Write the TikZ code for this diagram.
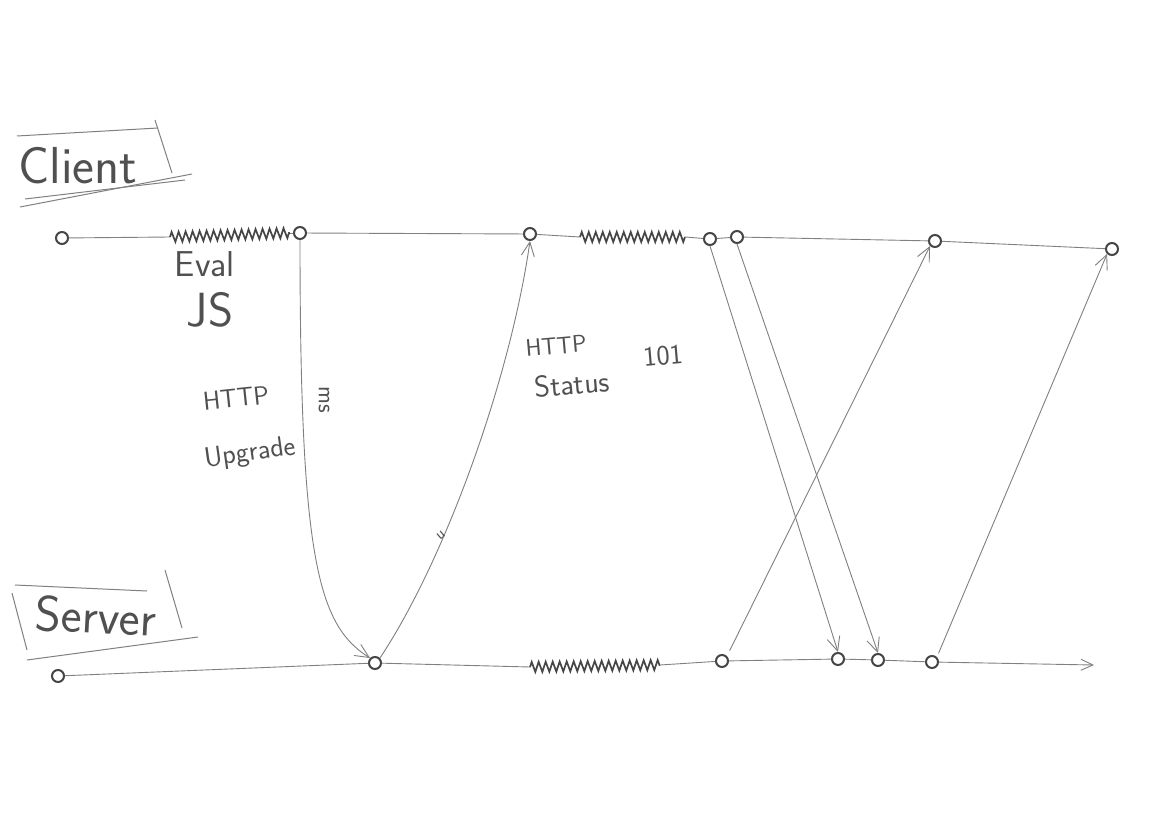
\documentclass[tikz,border=0pt]{standalone}
\usetikzlibrary{arrows.meta,decorations.pathmorphing}
\definecolor{pencil}{RGB}{128,128,128}
\definecolor{lead}{RGB}{80,80,80}
\definecolor{graphite}{RGB}{70,70,70}
\tikzset{
  wire/.style={draw=pencil, line width=0.9pt},
  dot/.style={circle, draw=graphite, line width=2pt, minimum size=12pt, inner sep=0pt},
  msg/.style={wire, -{Straight Barb[length=14pt,width=13pt,line width=0.9pt]}},
  hatch/.style={draw=graphite, line width=1.7pt, decorate,
    decoration={zigzag, segment length=7pt, amplitude=5pt}},
  hand/.style={text=lead, font=\sffamily, inner sep=0pt},
  frame/.style={draw=pencil, line width=1pt},
}
\begin{document}
\begin{tikzpicture}[x=1pt,y=-1pt]
\useasboundingbox[fill=white] (0,0) rectangle (1169,826);

% ---------- labels with frames ----------
\node[hand, font=\sffamily\fontsize{52}{52}\selectfont] (client) at (78,166) {Client};
\draw[frame] (17,136) -- (158,128);
\draw[frame] (155,120) -- (172,173);
\draw[frame] (20,207) -- (192,174);
\draw[frame] (25,199) -- (185,180);

\node[hand, font=\sffamily\fontsize{50}{50}\selectfont, rotate=-3] (server) at (96,616) {Server};
\draw[frame] (15,585) -- (147,591);
\draw[frame] (165,570) -- (182,628);
\draw[frame] (12,593) -- (27,650);
\draw[frame] (27,660) -- (198,637);

% ---------- client timeline ----------
\node[dot] (c0) at (62,238) {};
\node[dot] (c1) at (300,233) {};
\node[dot] (c2) at (530,234) {};
\node[dot] (c3) at (710,239) {};
\node[dot] (c4) at (737,237) {};
\node[dot] (c5) at (935,241) {};
\node[dot] (c6) at (1112,249) {};
\coordinate (ch1a) at (170,237);
\coordinate (ch1b) at (290,233);
\coordinate (ch2a) at (580,237);
\coordinate (ch2b) at (685,237);

\draw[wire] (c0) -- (ch1a);
\draw[hatch] (ch1a) -- (ch1b);
\draw[wire] (ch1b) -- (c1);
\draw[wire] (c1) -- (c2);
\draw[wire] (c2) -- (ch2a);
\draw[hatch] (ch2a) -- (ch2b);
\draw[wire] (ch2b) -- (c3);
\draw[wire] (c3) -- (c4);
\draw[wire] (c4) -- (c5);
\draw[wire] (c5) -- (c6);

% ---------- server timeline ----------
\node[dot] (s0) at (58,676) {};
\node[dot] (s1) at (375,663) {};
\node[dot] (s2) at (722,661) {};
\node[dot] (s3) at (838,659) {};
\node[dot] (s4) at (878,660) {};
\node[dot] (s5) at (932,662) {};
\coordinate (se) at (1094,665);
\coordinate (sh1a) at (530,667);
\coordinate (sh1b) at (660,665);

\draw[wire] (s0) -- (s1);
\draw[wire] (s1) -- (sh1a);
\draw[hatch] (sh1a) -- (sh1b);
\draw[wire] (sh1b) -- (s2);
\draw[wire] (s2) -- (s3);
\draw[wire] (s3) -- (s4);
\draw[wire] (s4) -- (s5);
\draw[wire, -{Straight Barb[length=12pt,width=11pt,line width=0.9pt]}] (s5) -- (se);

% ---------- messages ----------
\draw[msg] (c1.south) .. controls (300,560) and (318,625) .. (s1.north west);
\draw[msg] (s1.north east) .. controls (445,560) and (510,380) .. (c2.south);
\draw[msg] (c3.south) -- (s3.north);
\draw[msg] (c4.south) -- (s4.north);
\draw[msg, shorten <=6pt] (s2.north east) -- (c5.south west);
\draw[msg, shorten <=4pt] (s5.north east) -- (c6.south west);

% ---------- annotations ----------
\node[hand, font=\sffamily\fontsize{36}{36}\selectfont] (eval) at (205,264) {Eval};
\node[hand, font=\sffamily\fontsize{48}{48}\selectfont] (js) at (210,310) {JS};

\node[hand, font=\sffamily\fontsize{26}{26}\selectfont, rotate=6] (http1) at (236,398) {HTTP};
\node[hand, font=\sffamily\fontsize{28}{28}\selectfont, rotate=8] (upgrade) at (250,454) {Upgrade};
\node[hand, font=\sffamily\fontsize{24}{24}\selectfont, rotate=-90] (ms1) at (324,400) {ms};

\node[hand, font=\sffamily\fontsize{24}{24}\selectfont, rotate=5] (http2) at (556,346) {HTTP};
\node[hand, font=\sffamily\fontsize{30}{30}\selectfont, rotate=5] (status) at (572,384) {Status};
\node[hand, font=\sffamily\fontsize{28}{28}\selectfont, rotate=5] (code) at (663,356) {101};
\node[hand, font=\sffamily\fontsize{16}{16}\selectfont, rotate=40] (ms2) at (441,535) {u};
\end{tikzpicture}
\end{document}
